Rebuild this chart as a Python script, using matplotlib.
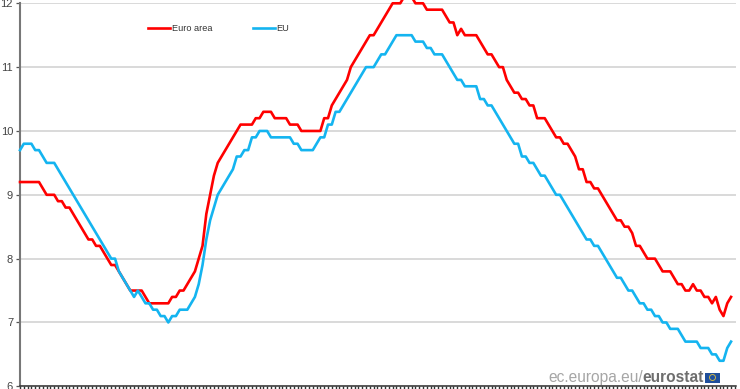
import matplotlib
matplotlib.use('Agg')
import matplotlib.pyplot as plt
import numpy as np
from matplotlib.patches import Circle, Rectangle

euro_area = [
    9.2, 9.2, 9.2, 9.2, 9.2, 9.2, 9.1, 9.0, 9.0, 9.0, 8.9, 8.9,
    8.8, 8.8, 8.7, 8.6, 8.5, 8.4, 8.3, 8.3, 8.2, 8.2, 8.1, 8.0,
    7.9, 7.9, 7.8, 7.7, 7.6, 7.5, 7.5, 7.5, 7.5, 7.4, 7.3, 7.3,
    7.3, 7.3, 7.3, 7.3, 7.4, 7.4, 7.5, 7.5, 7.6, 7.7, 7.8, 8.0,
    8.2, 8.7, 9.0, 9.3, 9.5, 9.6, 9.7, 9.8, 9.9, 10.0, 10.1, 10.1,
    10.1, 10.1, 10.2, 10.2, 10.3, 10.3, 10.3, 10.2, 10.2, 10.2, 10.2, 10.1,
    10.1, 10.1, 10.0, 10.0, 10.0, 10.0, 10.0, 10.0, 10.2, 10.2, 10.4, 10.5,
    10.6, 10.7, 10.8, 11.0, 11.1, 11.2, 11.3, 11.4, 11.5, 11.5, 11.6, 11.7,
    11.8, 11.9, 12.0, 12.0, 12.0, 12.1, 12.1, 12.1, 12.0, 12.0, 12.0, 11.9,
    11.9, 11.9, 11.9, 11.9, 11.8, 11.7, 11.7, 11.5, 11.6, 11.5, 11.5, 11.5,
    11.5, 11.4, 11.3, 11.2, 11.2, 11.1, 11.0, 11.0, 10.8, 10.7, 10.6, 10.6,
    10.5, 10.5, 10.4, 10.4, 10.2, 10.2, 10.2, 10.1, 10.0, 9.9, 9.9, 9.8,
    9.8, 9.7, 9.6, 9.4, 9.4, 9.2, 9.2, 9.1, 9.1, 9.0, 8.9, 8.8,
    8.7, 8.6, 8.6, 8.5, 8.5, 8.4, 8.2, 8.2, 8.1, 8.0, 8.0, 8.0,
    7.9, 7.8, 7.8, 7.8, 7.7, 7.6, 7.6, 7.5, 7.5, 7.6, 7.5, 7.5,
    7.4, 7.4, 7.3, 7.4, 7.2, 7.1, 7.3, 7.4,
]
eu = [
    9.7, 9.8, 9.8, 9.8, 9.7, 9.7, 9.6, 9.5, 9.5, 9.5, 9.4, 9.3,
    9.2, 9.1, 9.0, 8.9, 8.8, 8.7, 8.6, 8.5, 8.4, 8.3, 8.2, 8.1,
    8.0, 8.0, 7.8, 7.7, 7.6, 7.5, 7.4, 7.5, 7.4, 7.3, 7.3, 7.2,
    7.2, 7.1, 7.1, 7.0, 7.1, 7.1, 7.2, 7.2, 7.2, 7.3, 7.4, 7.6,
    7.9, 8.3, 8.6, 8.8, 9.0, 9.1, 9.2, 9.3, 9.4, 9.6, 9.6, 9.7,
    9.7, 9.9, 9.9, 10.0, 10.0, 10.0, 9.9, 9.9, 9.9, 9.9, 9.9, 9.9,
    9.8, 9.8, 9.7, 9.7, 9.7, 9.7, 9.8, 9.9, 9.9, 10.1, 10.1, 10.3,
    10.3, 10.4, 10.5, 10.6, 10.7, 10.8, 10.9, 11.0, 11.0, 11.0, 11.1, 11.2,
    11.2, 11.3, 11.4, 11.5, 11.5, 11.5, 11.5, 11.5, 11.4, 11.4, 11.4, 11.3,
    11.3, 11.2, 11.2, 11.2, 11.1, 11.0, 10.9, 10.8, 10.8, 10.7, 10.7, 10.7,
    10.7, 10.5, 10.5, 10.4, 10.4, 10.3, 10.2, 10.1, 10.0, 9.9, 9.8, 9.8,
    9.6, 9.6, 9.5, 9.5, 9.4, 9.3, 9.3, 9.2, 9.1, 9.0, 9.0, 8.9,
    8.8, 8.7, 8.6, 8.5, 8.4, 8.3, 8.3, 8.2, 8.2, 8.1, 8.0, 7.9,
    7.8, 7.7, 7.7, 7.6, 7.5, 7.5, 7.4, 7.3, 7.3, 7.2, 7.2, 7.1,
    7.1, 7.0, 7.0, 6.9, 6.9, 6.9, 6.8, 6.7, 6.7, 6.7, 6.7, 6.6,
    6.6, 6.6, 6.5, 6.5, 6.4, 6.4, 6.6, 6.7,
]
y_ticks = [6, 7, 8, 9, 10, 11, 12]

W, H = 740, 389
plt.rcParams['font.family'] = ['Liberation Sans', 'DejaVu Sans']

fig = plt.figure(figsize=(W / 100, H / 100), dpi=100)
ax = fig.add_axes([20 / W, 1 - 386.3 / H, 716 / W, 383 / H])

months = np.arange(len(euro_area))
ax.plot(months, euro_area, color='#ff0000', lw=1.9, label='Euro area', clip_on=False, zorder=3)
ax.plot(months, eu, color='#14b4f0', lw=1.9, label='EU', clip_on=False, zorder=4)

ax.set_xlim(0, 188.3)
ax.set_ylim(6, 12)
ax.set_yticks(y_ticks)
ax.set_xticks(np.arange(0, 189))
ax.set_xticklabels([])
ax.grid(axis='y', color='#cfcfcf', lw=1.1)
ax.set_axisbelow(True)
ax.tick_params(axis='y', length=3, width=0.9, color='#555555', labelsize=8, labelcolor='#444444', pad=2)
ax.tick_params(axis='x', length=3, width=1.0, color='#333333')

for side in ['top', 'right']:
    ax.spines[side].set_visible(False)
ax.spines['left'].set_color('#777777')
ax.spines['left'].set_linewidth(1.5)
ax.spines['bottom'].set_color('#333333')
ax.spines['bottom'].set_linewidth(1.1)

ax.legend(loc='upper left', bbox_to_anchor=(128 / 716, 0.946), ncol=2, frameon=False,
          fontsize=6.6, labelcolor='#333333', handlelength=2.4, handletextpad=0.2,
          columnspacing=4.4, borderpad=0, borderaxespad=0)

# eurostat footer
t1 = fig.text(548 / W, 1 - 382 / H, 'ec.europa.eu/', fontsize=11.2, color='#a6a6a6')
t2 = fig.text(642 / W, 1 - 382 / H, 'eurostat', fontsize=11.2, color='#6e6e6e', fontweight='bold')
fig.add_artist(Rectangle((705 / W, 1 - 382.5 / H), 15 / W, 10 / H, transform=fig.transFigure,
                         facecolor='#1f4f9c', edgecolor='none'))
fig.add_artist(Circle((712.5, H - 377.5), 3, transform=None, facecolor='none',
                      edgecolor='#c9b44a', lw=0.7))

fig.savefig('out.png', dpi=100)
